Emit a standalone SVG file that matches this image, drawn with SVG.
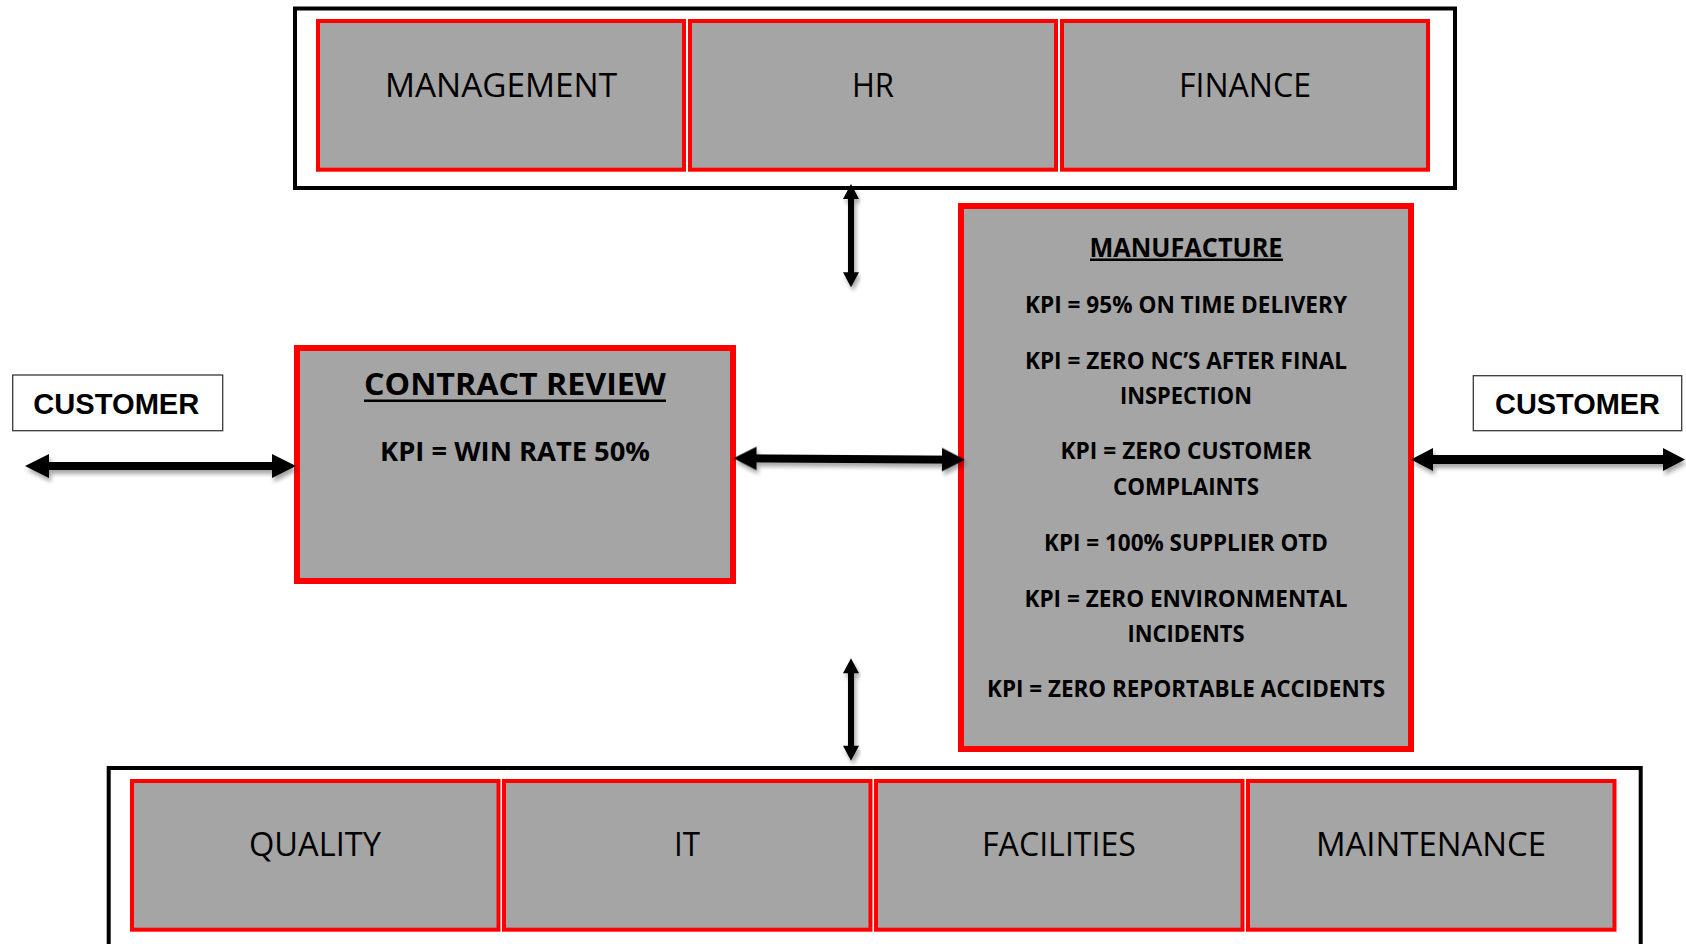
<svg xmlns="http://www.w3.org/2000/svg" width="1686" height="944" viewBox="0 0 1686 944">
  <style>
    .frame { fill: #ffffff; stroke: #000000; stroke-width: 4; }
    .dept { fill: #a5a5a5; stroke: #ff0000; stroke-width: 4; }
    .proc { fill: #a5a5a5; stroke: #ff0000; stroke-width: 6; }
    .cust { fill: #ffffff; stroke: #3a3a3a; stroke-width: 1.3; }
    .lbl { font-family: "Open Sans", "Noto Sans", sans-serif; font-size: 33.6px; fill: #000000; text-anchor: middle; }
    .kpi { font-family: "Open Sans", "Noto Sans", sans-serif; font-weight: 700; font-size: 24px; fill: #000000; text-anchor: middle; }
    .ttl { font-family: "Open Sans", "Noto Sans", sans-serif; font-weight: 700; fill: #000000; text-anchor: middle; }
    .ctext { font-family: "Liberation Sans", Arial, sans-serif; font-weight: 700; font-size: 29px; fill: #000000; text-anchor: middle; }
    .ul { stroke: #000000; stroke-width: 2.4; }
    .arrow { fill: #000000; filter: url(#shadow); }
  </style>
  <defs>
    <filter id="shadow" x="-10%" y="-60%" width="120%" height="220%">
      <feDropShadow dx="2" dy="4" stdDeviation="2.2" flood-color="#000000" flood-opacity="0.35"/>
    </filter>
  </defs>

  <rect width="1686" height="944" fill="#ffffff"/>

  <!-- support functions, top row -->
  <g id="support-top">
    <rect class="frame" x="295" y="8.5" width="1160" height="179.5"/>
    <g id="management">
      <rect class="dept" x="318" y="21" width="366" height="148.7"/>
      <text class="lbl" x="501" y="96.7" textLength="232" lengthAdjust="spacingAndGlyphs">MANAGEMENT</text>
    </g>
    <g id="hr">
      <rect class="dept" x="690" y="21" width="366" height="148.7"/>
      <text class="lbl" x="873" y="96.7" textLength="42" lengthAdjust="spacingAndGlyphs">HR</text>
    </g>
    <g id="finance">
      <rect class="dept" x="1062" y="21" width="366" height="148.7"/>
      <text class="lbl" x="1245" y="96.7" textLength="132" lengthAdjust="spacingAndGlyphs">FINANCE</text>
    </g>
  </g>

  <!-- customers -->
  <g id="customer-left">
    <rect class="cust" x="12.7" y="375" width="210" height="55.7"/>
    <text class="ctext" x="116.3" y="414" textLength="166" lengthAdjust="spacingAndGlyphs">CUSTOMER</text>
  </g>
  <g id="customer-right">
    <rect class="cust" x="1473.3" y="375.7" width="208.4" height="55"/>
    <text class="ctext" x="1577.5" y="414" textLength="165" lengthAdjust="spacingAndGlyphs">CUSTOMER</text>
  </g>

  <!-- contract review -->
  <g id="contract-review">
    <rect class="proc" x="297" y="348" width="436" height="233"/>
    <text class="ttl" x="515" y="395" font-size="30" textLength="302" lengthAdjust="spacingAndGlyphs">CONTRACT REVIEW</text>
    <line class="ul" x1="364" y1="400.7" x2="666" y2="400.7"/>
    <text class="ttl" x="515" y="460.7" font-size="26.6" textLength="270" lengthAdjust="spacingAndGlyphs">KPI = WIN RATE 50%</text>
  </g>

  <!-- manufacture -->
  <g id="manufacture">
    <rect class="proc" x="961" y="206" width="450" height="543"/>
    <text class="ttl" x="1186" y="256.7" font-size="27" textLength="193" lengthAdjust="spacingAndGlyphs">MANUFACTURE</text>
    <line class="ul" x1="1090" y1="259.8" x2="1283" y2="259.8"/>
    <text class="kpi" x="1186" y="313.3" textLength="322" lengthAdjust="spacingAndGlyphs">KPI = 95% ON TIME DELIVERY</text>
    <text class="kpi" x="1186" y="369.3" textLength="322" lengthAdjust="spacingAndGlyphs">KPI = ZERO NC’S AFTER FINAL</text>
    <text class="kpi" x="1186" y="404" textLength="132" lengthAdjust="spacingAndGlyphs">INSPECTION</text>
    <text class="kpi" x="1186" y="459.3" textLength="251" lengthAdjust="spacingAndGlyphs">KPI = ZERO CUSTOMER</text>
    <text class="kpi" x="1186" y="495" textLength="146" lengthAdjust="spacingAndGlyphs">COMPLAINTS</text>
    <text class="kpi" x="1186" y="551" textLength="284" lengthAdjust="spacingAndGlyphs">KPI = 100% SUPPLIER OTD</text>
    <text class="kpi" x="1186" y="606.7" textLength="323" lengthAdjust="spacingAndGlyphs">KPI = ZERO ENVIRONMENTAL</text>
    <text class="kpi" x="1186" y="641.7" textLength="117" lengthAdjust="spacingAndGlyphs">INCIDENTS</text>
    <text class="kpi" x="1186" y="697.3" textLength="398" lengthAdjust="spacingAndGlyphs">KPI = ZERO REPORTABLE ACCIDENTS</text>
  </g>

  <!-- support functions, bottom row -->
  <g id="support-bottom">
    <rect class="frame" x="108.7" y="768" width="1532" height="200"/>
    <g id="quality">
      <rect class="dept" x="132" y="781" width="366.5" height="148.7"/>
      <text class="lbl" x="315" y="856" textLength="132" lengthAdjust="spacingAndGlyphs">QUALITY</text>
    </g>
    <g id="it">
      <rect class="dept" x="504" y="781" width="366.5" height="148.7"/>
      <text class="lbl" x="687" y="856" textLength="26" lengthAdjust="spacingAndGlyphs">IT</text>
    </g>
    <g id="facilities">
      <rect class="dept" x="876" y="781" width="366.5" height="148.7"/>
      <text class="lbl" x="1059" y="856" textLength="154" lengthAdjust="spacingAndGlyphs">FACILITIES</text>
    </g>
    <g id="maintenance">
      <rect class="dept" x="1248" y="781" width="366.5" height="148.7"/>
      <text class="lbl" x="1431" y="856" textLength="230" lengthAdjust="spacingAndGlyphs">MAINTENANCE</text>
    </g>
  </g>

  <!-- double-headed connectors -->
  <g id="connectors">
    <!-- customer (left) to contract review -->
    <polygon class="arrow" points="25,466 49,454 49,462 272,462 272,454 296,466 272,478 272,470 49,470 49,478"/>
    <!-- contract review to manufacture -->
    <polygon class="arrow" transform="rotate(0.37 849 459)" points="733.5,459 756.5,447.3 756.5,455 942,455 942,447.3 965,459 942,470.7 942,463 756.5,463 756.5,470.7"/>
    <!-- manufacture to customer (right) -->
    <polygon class="arrow" points="1411,459.5 1433,448 1433,455 1663,455 1663,448 1685,459.5 1663,471 1663,464 1433,464 1433,471"/>
    <!-- top functions to process -->
    <polygon class="arrow" points="851,184 859,199 854,199 854,272.3 859,272.3 851,287.3 843,272.3 848,272.3 848,199 843,199"/>
    <!-- process to bottom functions -->
    <polygon class="arrow" points="851,658.3 859,673.3 854,673.3 854,745.7 859,745.7 851,760.7 843,745.7 848,745.7 848,673.3 843,673.3"/>
  </g>
</svg>
